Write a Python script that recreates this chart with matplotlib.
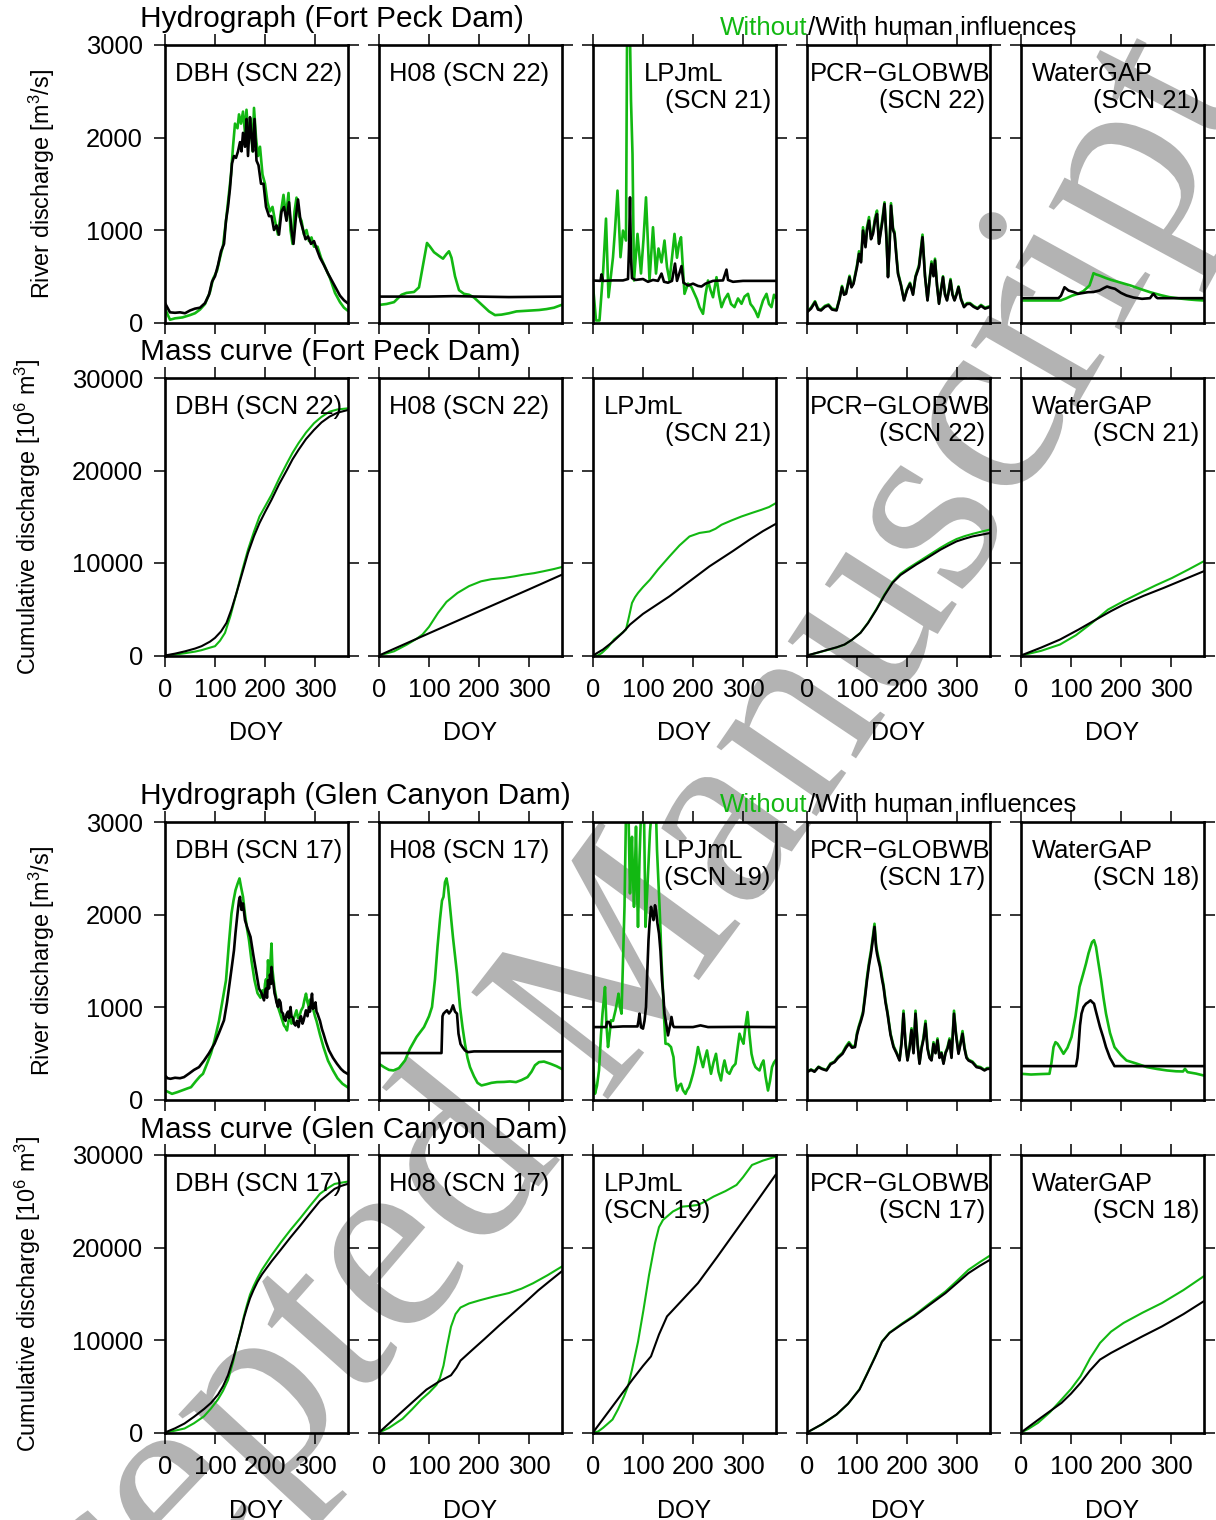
import numpy as np
import matplotlib
matplotlib.use("Agg")
import matplotlib.pyplot as plt
from matplotlib.textpath import TextPath
from matplotlib.font_manager import FontProperties
from matplotlib.patches import PathPatch
from matplotlib.path import Path

plt.rcParams["font.family"] = ["Liberation Sans", "DejaVu Sans"]
plt.rcParams["mathtext.fontset"] = "custom"
plt.rcParams["mathtext.rm"] = "Liberation Sans"
plt.rcParams["mathtext.it"] = "Liberation Sans:italic"

GREEN = "#12B812"
WM_GRAY = "#B3B3B3"

MODELS = ["DBH", "H08", "LPJmL", "PCR\u2212GLOBWB", "WaterGAP"]
FP_SCN = [22, 22, 21, 22, 21]
GC_SCN = [17, 17, 19, 17, 18]
DOY_TICKS = [0, 100, 200, 300]
Q_TICKS = [0, 1000, 2000, 3000]
M_TICKS = [0, 10000, 20000, 30000]

# ---- Fort Peck Dam, hydrograph [m3/s]  (doy, value); nat = without, hum = with human influences
fp_q_dbh_nat = [(0,150),(5,90),(10,30),(20,45),(35,55),(50,80),(60,100),(70,140),(80,200),(90,330),(96,470),
    (104,560),(110,700),(116,830),(122,1100),(127,1350),(132,1600),(136,1900),(140,2150),(145,2100),(148,2250),
    (152,2150),(156,2280),(160,2050),(163,2300),(167,2000),(171,2200),(175,1850),(178,2320),(182,2000),(186,1800),
    (190,1900),(195,1600),(200,1500),(205,1300),(210,1200),(215,1250),(220,1100),(226,950),(232,1200),(237,1380),
    (242,1150),(247,1400),(251,1000),(255,850),(259,1200),(263,1350),(268,1150),(273,1100),(278,950),(283,1000),
    (288,880),(293,920),(298,820),(305,820),(312,700),(320,600),(330,480),(340,320),(350,220),(358,160),(365,130)]
fp_q_dbh_hum = [(0,210),(5,160),(10,110),(20,105),(30,110),(40,100),(50,130),(60,150),(70,160),(80,210),(88,300),
    (94,440),(100,500),(106,620),(112,770),(118,850),(122,1100),(126,1250),(130,1450),(134,1720),(138,1800),
    (142,1780),(146,1850),(150,1950),(153,1850),(156,2050),(160,1900),(163,2200),(166,1800),(170,2220),(173,2000),
    (176,1850),(179,2200),(183,1750),(187,1700),(192,1500),(197,1500),(202,1250),(208,1150),(213,1150),(218,1000),
    (223,1050),(228,950),(233,1200),(238,1250),(243,1100),(248,1300),(253,1000),(257,850),(262,1150),(266,1330),
    (271,1100),(276,1000),(281,900),(286,930),(292,850),(298,880),(303,800),(310,700),(318,620),(326,530),
    (334,450),(342,370),(350,290),(358,240),(365,210)]
fp_q_h08_nat = [(0,190),(15,200),(30,220),(45,300),(55,320),(70,330),(80,380),(88,620),(96,860),(102,820),
    (110,760),(120,720),(128,690),(135,740),(140,770),(145,700),(152,500),(160,350),(170,310),(180,300),(190,270),
    (200,220),(210,170),(220,120),(232,80),(245,85),(260,100),(275,120),(290,125),(305,130),(320,135),(335,145),
    (350,160),(365,190)]
fp_q_h08_hum = [(0,280),(100,280),(150,285),(200,280),(260,275),(365,280)]
fp_q_lpj_nat = [(0,400),(6,22),(13,22),(20,529),(26,1123),(31,273),(40,706),(44,1000),(49,1426),(55,706),
    (60,994),(66,886),(68,2973),(70,3100),(74,3100),(76,2400),(79,1822),(82,454),(89,958),(96,530),(101,900),
    (106,1353),(113,454),(120,1030),(126,529),(131,800),(137,650),(143,886),(148,600),(153,454),(158,700),
    (163,958),(168,700),(172,850),(176,922),(183,310),(190,420),(197,382),(203,310),(208,250),(213,166),(220,94),
    (225,300),(230,454),(235,350),(240,273),(247,490),(252,300),(257,166),(263,250),(270,310),(276,200),(283,166),
    (290,260),(297,202),(303,280),(310,310),(315,200),(320,166),(325,120),(330,58),(335,150),(340,238),(347,310),
    (352,200),(357,166),(362,300),(365,273)]
fp_q_lpj_hum = [(0,454),(15,450),(17,520),(20,450),(40,455),(60,455),(70,470),(72,800),(74,1353),(76,700),
    (78,480),(85,460),(100,470),(110,440),(120,460),(130,450),(137,529),(142,440),(150,430),(158,450),(164,637),
    (168,450),(172,520),(177,610),(181,430),(190,400),(200,420),(210,395),(217,389),(225,420),(240,450),(260,455),
    (267,572),(270,460),(280,440),(300,450),(365,450)]
fp_q_pcr_nat = [(0,120),(8,160),(16,230),(22,150),(28,140),(36,180),(43,195),(50,150),(59,140),(65,260),(70,395),
    (74,310),(78,320),(85,505),(89,390),(93,430),(100,620),(104,770),(108,670),(112,1030),(117,830),(120,1030),
    (124,1140),(128,920),(132,980),(136,1130),(140,1210),(144,870),(147,980),(151,1130),(155,1300),(159,920),
    (162,500),(165,820),(168,1290),(172,1020),(175,980),(179,720),(182,540),(188,410),(194,245),(200,360),
    (206,430),(212,310),(217,500),(224,620),(231,950),(236,510),(241,245),(245,460),(249,660),(253,510),(256,690),
    (260,410),(264,210),(268,360),(272,500),(276,310),(280,245),(284,360),(287,470),(291,310),(295,245),(299,310),
    (303,390),(308,260),(314,175),(320,210),(326,210),(333,180),(341,155),(348,190),(356,160),(365,175)]
fp_q_pcr_hum = [(0,111),(8,150),(16,219),(22,140),(28,130),(36,170),(43,184),(50,140),(59,130),(65,250),(70,381),
    (74,300),(78,310),(85,489),(89,380),(93,418),(100,600),(104,742),(108,650),(112,994),(117,814),(120,1000),
    (124,1102),(128,900),(132,958),(136,1100),(140,1174),(144,850),(147,958),(151,1100),(155,1282),(159,900),
    (162,490),(165,800),(168,1264),(172,1000),(175,958),(179,700),(182,526),(188,400),(194,238),(200,350),
    (206,418),(212,300),(217,490),(224,600),(231,922),(236,500),(241,238),(245,450),(249,634),(253,500),(256,670),
    (260,400),(264,202),(268,350),(272,490),(276,300),(280,238),(284,350),(287,454),(291,300),(295,238),(299,300),
    (303,382),(308,250),(314,166),(320,200),(326,202),(333,170),(341,148),(348,180),(356,150),(365,166)]
fp_q_wgp_nat = [(0,238),(79,238),(90,260),(102,290),(114,310),(125,340),(137,400),(142,480),(145,533),(150,520),
    (157,508),(170,480),(180,461),(200,430),(219,400),(240,360),(258,328),(280,295),(297,274),(320,258),(336,249),
    (350,243),(365,238)]
fp_q_wgp_hum = [(0,263),(75,263),(80,290),(87,381),(95,346),(105,330),(114,310),(125,320),(134,328),(145,330),
    (157,346),(165,370),(172,389),(180,375),(188,364),(200,320),(211,292),(225,270),(242,256),(258,263),(263,300),
    (265,310),(270,275),(273,263),(300,263),(365,263)]

# ---- Fort Peck Dam, mass curve [10^6 m3]
fp_m_dbh_nat = [(0,0),(20,100),(40,250),(60,420),(73,575),(90,850),(100,1004),(110,1600),(120,2445),(131,4300),
    (143,6763),(155,9300),(166,11440),(178,13400),(189,15030),(200,16100),(213,17370),(228,19100),(244,20790),
    (255,21900),(267,22950),(282,24100),(298,25110),(313,25800),(329,26360),(345,26600),(366,26720)]
fp_m_dbh_hum = [(0,0),(20,200),(40,450),(60,750),(73,1004),(90,1500),(100,1906),(112,2600),(123,3527),(133,5000),
    (143,6763),(155,9000),(166,11080),(178,12900),(189,14318),(200,15500),(213,16830),(228,18500),(244,20068),
    (255,21200),(267,22227),(282,23400),(298,24385),(313,25200),(329,25824),(345,26250),(366,26543)]
fp_m_h08_nat = [(0,0),(30,450),(56,1187),(75,1800),(87,2266),(100,3100),(118,4600),(135,5800),(157,6763),
    (180,7500),(204,8020),(225,8250),(250,8380),(270,8550),(289,8740),(310,8900),(328,9096),(350,9350),(366,9570)]
fp_m_h08_hum = [(0,0),(100,2400),(200,4780),(300,7150),(366,8740)]
fp_m_lpj_nat = [(0,0),(10,0),(18,290),(30,900),(42,1726),(55,2300),(66,2805),(72,4200),(78,5680),(84,6300),
    (90,6763),(100,7400),(114,8200),(130,9300),(153,10715),(173,11900),(193,12870),(213,13250),(233,13410),
    (245,13700),(257,14135),(277,14600),(297,15030),(317,15400),(337,15755),(352,16050),(366,16480)]
fp_m_lpj_hum = [(0,0),(20,650),(40,1500),(60,2500),(74,3345),(100,4500),(153,6400),(200,8300),(233,9640),
    (280,11300),(313,12520),(340,13450),(366,14243)]
fp_m_pcr_nat = [(0,0),(20,280),(43,620),(60,880),(75,1170),(90,1700),(107,2470),(122,3550),(139,5050),(155,6600),
    (171,7950),(187,8850),(203,9450),(219,10000),(235,10550),(251,11100),(267,11650),(283,12150),(299,12590),
    (315,12900),(331,13150),(348,13380),(365,13600)]
fp_m_pcr_hum = [(0,0),(20,300),(43,647),(60,900),(75,1187),(90,1700),(107,2445),(122,3500),(139,4963),(155,6500),
    (171,7844),(187,8700),(203,9280),(219,9850),(235,10360),(251,10900),(267,11440),(283,11900),(299,12336),
    (315,12620),(331,12870),(348,13050),(365,13230)]
fp_m_wgp_nat = [(0,0),(40,500),(78,1187),(110,2200),(142,3527),(174,4963),(206,5900),(238,6763),(270,7600),
    (302,8380),(335,9300),(365,10170)]
fp_m_wgp_hum = [(0,0),(40,850),(78,1726),(115,2800),(150,3885),(180,4800),(205,5500),(245,6450),(285,7300),
    (325,8200),(365,9096)]

# ---- Glen Canyon Dam, hydrograph [m3/s]
gc_q_dbh_nat = [(0,97),(7,80),(14,61),(25,80),(35,100),(45,120),(52,133),(62,200),(70,250),(76,278),(85,400),
    (92,500),(99,639),(108,850),(116,1100),(122,1289),(128,1700),(133,2011),(137,2150),(141,2263),(145,2330),
    (149,2390),(152,2300),(156,2191),(160,2000),(164,1850),(168,1722),(173,1500),(179,1289),(185,1150),(191,1100),
    (195,1180),(198,1108),(200,1250),(202,1300),(204,1200),(206,1505),(208,1350),(210,1400),(213,1686),(215,1400),
    (217,1300),(219,1200),(221,1144),(224,1050),(226,1000),(229,950),(232,900),(235,850),(238,800),(241,780),
    (244,747),(247,850),(250,900),(253,820),(256,850),(259,900),(263,964),(266,880),(269,900),(272,960),(276,1000),
    (279,1080),(282,1144),(285,1050),(288,1000),(290,1080),(292,1050),(295,1000),(297,964),(300,900),(303,850),
    (310,700),(317,566),(326,420),(336,314),(345,230),(355,170),(365,133)]
gc_q_dbh_hum = [(0,260),(5,230),(11,224),(20,235),(30,230),(38,242),(48,280),(58,320),(68,350),(78,420),(88,500),
    (99,603),(108,720),(118,856),(124,1050),(130,1289),(134,1450),(138,1614),(141,1800),(145,2011),(148,2150),
    (150,2191),(153,2050),(156,2120),(160,1939),(165,1850),(171,1758),(177,1550),(183,1361),(188,1200),(193,1150),
    (198,1072),(200,1150),(202,1200),(204,1100),(206,1289),(208,1200),(210,1350),(212,1250),(213,1433),(215,1300),
    (217,1250),(219,1150),(221,1108),(223,1050),(226,1000),(228,1080),(231,1050),(233,950),(236,928),(238,870),
    (241,850),(243,920),(246,950),(248,880),(251,1000),(253,900),(256,880),(258,820),(261,800),(264,850),
    (267,783),(270,880),(272,900),(275,820),(277,850),(280,920),(282,964),(285,900),(288,1000),(290,950),
    (292,1050),(294,1144),(296,980),(298,1000),(301,1050),(303,950),(305,928),(308,880),(310,850),(314,760),
    (317,711),(322,620),(328,530),(336,450),(344,386),(352,330),(358,300),(365,278)]
gc_q_h08_nat = [(0,386),(10,350),(20,320),(29,314),(40,340),(52,422),(62,550),(75,675),(90,783),(100,900),
    (106,1000),(112,1300),(117,1650),(122,1950),(126,2150),(129,2191),(132,2350),(135,2390),(138,2300),(142,2083),
    (148,1750),(156,1361),(162,1000),(167,783),(172,600),(177,450),(182,350),(190,250),(197,180),(205,152),
    (215,165),(225,180),(236,188),(250,190),(262,195),(274,188),(285,210),(297,242),(305,300),(312,370),(320,404),
    (330,410),(343,386),(355,360),(365,332)]
gc_q_h08_hum = [(0,502),(60,502),(125,502),(127,900),(129,928),(133,950),(136,964),(140,930),(144,960),(148,1018),
    (152,950),(156,928),(159,711),(163,600),(167,566),(172,530),(178,512),(190,520),(250,520),(365,520)]
gc_q_lpj_nat = [(0,350),(4,62),(8,150),(12,314),(16,700),(19,928),(22,1100),(24,1216),(27,800),(30,567),(33,700),
    (36,856),(40,850),(45,964),(48,1050),(51,1144),(54,1000),(57,928),(60,1500),(63,2083),(66,3100),(71,3100),
    (73,2500),(74,2228),(76,2600),(78,2840),(80,2400),(82,2083),(84,2500),(86,2950),(88,2300),(90,1866),(93,2600),
    (96,3100),(102,3100),(104,2300),(105,1866),(108,2200),(111,2552),(114,2900),(117,3100),(126,3100),(128,2700),
    (131,2336),(133,2100),(135,1830),(137,1500),(139,1289),(142,900),(145,603),(150,600),(156,567),(158,520),
    (161,458),(164,250),(168,97),(172,150),(176,170),(180,100),(185,61),(188,100),(192,133),(196,200),(200,278),
    (205,400),(210,567),(215,450),(220,350),(224,450),(228,530),(232,400),(236,278),(241,400),(246,494),(251,300),
    (256,206),(260,350),(263,422),(268,300),(273,278),(279,350),(285,386),(289,550),(293,711),(297,650),(301,603),
    (305,800),(309,946),(313,700),(317,494),(321,400),(325,350),(329,330),(333,314),(337,380),(341,422),(345,250),
    (350,97),(354,200),(358,350),(362,400),(365,422)]
gc_q_lpj_hum = [(0,783),(26,783),(28,838),(32,838),(36,783),(60,790),(89,790),(91,850),(93,928),(96,780),
    (100,766),(103,850),(106,1000),(108,1300),(111,1722),(113,1900),(116,2083),(119,2000),(121,1939),(124,2100),
    (126,2047),(129,1900),(132,1794),(135,1600),(138,1289),(141,1100),(143,928),(147,800),(150,693),(154,800),
    (157,892),(160,800),(162,783),(200,783),(215,801),(230,783),(290,785),(365,783)]
gc_q_pcr_nat = [(0,300),(8,325),(15,305),(23,355),(30,335),(39,320),(47,390),(55,410),(62,460),(71,505),(78,575),
    (84,620),(90,575),(96,580),(100,720),(104,800),(108,870),(112,950),(116,1130),(120,1320),(124,1480),
    (128,1610),(131,1730),(135,1900),(138,1680),(140,1610),(143,1530),(146,1460),(150,1330),(153,1240),(157,1070),
    (161,945),(167,715),(173,580),(179,510),(185,430),(189,620),(193,960),(197,615),(201,430),(205,565),(209,770),
    (213,510),(217,960),(221,615),(225,395),(229,565),(233,670),(237,850),(241,565),(245,460),(249,430),(253,620),
    (257,510),(261,660),(265,460),(269,510),(273,395),(277,510),(281,565),(285,660),(289,460),(294,960),(298,715),
    (303,505),(307,615),(311,740),(315,565),(319,460),(323,430),(331,410),(339,360),(347,350),(355,320),(360,340),
    (365,340)]
gc_q_pcr_hum = [(0,296),(8,320),(15,300),(23,350),(30,330),(39,314),(47,380),(55,404),(62,450),(71,494),(78,560),
    (84,603),(90,560),(96,567),(100,700),(104,783),(108,850),(112,928),(116,1100),(120,1289),(124,1450),(128,1578),
    (131,1700),(135,1866),(138,1650),(140,1578),(143,1500),(146,1433),(150,1300),(153,1217),(157,1050),(161,928),
    (167,700),(173,567),(179,500),(185,422),(189,600),(193,928),(197,600),(201,422),(205,550),(209,750),(213,500),
    (217,928),(221,600),(225,386),(229,550),(233,650),(237,819),(241,550),(245,450),(249,422),(253,600),(257,500),
    (261,639),(265,450),(269,500),(273,386),(277,500),(281,550),(285,639),(289,450),(294,928),(298,700),(303,494),
    (307,600),(311,711),(315,550),(319,450),(323,422),(331,400),(339,350),(347,340),(355,314),(360,330),(365,332)]
gc_q_wgp_nat = [(0,278),(20,270),(40,275),(57,278),(61,400),(65,566),(69,620),(73,603),(79,550),(85,494),(93,560),
    (101,675),(109,900),(117,1217),(124,1350),(130,1469),(135,1580),(139,1650),(142,1700),(146,1722),(150,1650),
    (154,1505),(160,1300),(165,1100),(170,928),(178,720),(187,566),(200,480),(211,422),(230,390),(252,350),
    (272,330),(292,314),(310,305),(324,303),(328,332),(333,296),(350,280),(365,260)]
gc_q_wgp_hum = [(0,361),(110,361),(113,450),(115,566),(118,800),(121,928),(125,1000),(130,1036),(134,1050),
    (139,1072),(143,1050),(146,1036),(150,950),(158,783),(164,680),(170,566),(178,450),(187,361),(365,361)]

# ---- Glen Canyon Dam, mass curve [10^6 m3]
gc_m_dbh_nat = [(0,0),(20,200),(39,431),(58,1000),(78,1750),(92,2600),(106,3585),(116,4500),(126,5665),(136,7600),
    (145,9700),(152,11200),(158,12600),(164,13800),(170,14900),(177,15800),(185,16700),(194,17600),(213,19150),
    (232,20575),(251,21900),(271,23200),(290,24500),(310,25810),(325,26400),(339,26870),(352,27000),(365,27120)]
gc_m_dbh_hum = [(0,0),(20,450),(39,971),(58,1700),(78,2536),(92,3200),(106,4100),(116,5000),(126,6190),(136,7900),
    (145,9700),(152,11100),(158,12400),(164,13500),(170,14500),(177,15400),(185,16300),(194,17100),(213,18500),
    (232,19790),(251,21100),(271,22410),(290,23700),(310,25030),(325,25700),(339,26330),(352,26650),(365,26870)]
gc_m_h08_nat = [(0,0),(20,500),(47,1478),(66,2500),(85,3585),(100,4300),(115,5150),(122,5900),(129,7230),
    (136,9300),(144,11440),(153,12800),(163,13510),(180,13950),(202,14300),(230,14700),(260,15080),(285,15550),
    (308,16130),(337,17000),(366,17950)]
gc_m_h08_hum = [(0,0),(50,2450),(95,4640),(120,5500),(144,6190),(155,7000),(163,7770),(187,8950),(211,10110),
    (240,11550),(270,12990),(294,14150),(318,15340),(342,16400),(366,17440)]
gc_m_lpj_nat = [(0,0),(10,100),(20,500),(39,1400),(50,2500),(62,3900),(70,5000),(78,6800),(90,9800),(101,13270),
    (112,17000),(124,20470),(132,22200),(140,22980),(160,23900),(179,24420),(195,24500),(210,24600),(225,25000),
    (241,25500),(265,26100),(287,26760),(300,27600),(318,28920),(340,29400),(365,29810)]
gc_m_lpj_hum = [(0,0),(40,2900),(80,5800),(100,7200),(116,8230),(132,10600),(148,12550),(179,14350),(210,16150),
    (248,18950),(287,21900),(326,24850),(365,27840)]
gc_m_pcr_nat = [(0,0),(30,880),(59,1930),(82,3100),(105,4680),(120,6350),(137,8300),(150,9850),(165,10800),
    (190,11780),(214,12650),(245,13950),(277,15250),(300,16400),(323,17590),(345,18400),(366,19130)]
gc_m_pcr_hum = [(0,0),(30,900),(59,1942),(82,3100),(105,4640),(120,6300),(137,8233),(150,9800),(165,10757),
    (190,11700),(214,12550),(245,13800),(277,15070),(300,16150),(323,17230),(345,18000),(366,18670)]
gc_m_wgp_nat = [(0,0),(15,400),(34,1047),(58,2200),(81,3560),(100,4700),(119,6075),(138,8000),(158,9680),
    (180,10900),(205,11840),(243,12950),(282,14000),(325,15400),(365,16870)]
gc_m_wgp_hum = [(0,0),(40,1600),(81,3200),(100,4200),(119,5360),(138,6700),(158,7880),(180,8600),(205,9320),
    (243,10400),(282,11470),(325,12800),(365,14170)]

FP_Q = [(fp_q_dbh_nat, fp_q_dbh_hum), (fp_q_h08_nat, fp_q_h08_hum), (fp_q_lpj_nat, fp_q_lpj_hum),
        (fp_q_pcr_nat, fp_q_pcr_hum), (fp_q_wgp_nat, fp_q_wgp_hum)]
FP_M = [(fp_m_dbh_nat, fp_m_dbh_hum), (fp_m_h08_nat, fp_m_h08_hum), (fp_m_lpj_nat, fp_m_lpj_hum),
        (fp_m_pcr_nat, fp_m_pcr_hum), (fp_m_wgp_nat, fp_m_wgp_hum)]
GC_Q = [(gc_q_dbh_nat, gc_q_dbh_hum), (gc_q_h08_nat, gc_q_h08_hum), (gc_q_lpj_nat, gc_q_lpj_hum),
        (gc_q_pcr_nat, gc_q_pcr_hum), (gc_q_wgp_nat, gc_q_wgp_hum)]
GC_M = [(gc_m_dbh_nat, gc_m_dbh_hum), (gc_m_h08_nat, gc_m_h08_hum), (gc_m_lpj_nat, gc_m_lpj_hum),
        (gc_m_pcr_nat, gc_m_pcr_hum), (gc_m_wgp_nat, gc_m_wgp_hum)]

W, H = 1216, 1520
COL_X = [165, 379, 593, 807, 1021]
ROW_Y = [45, 378, 822, 1155]
PW, PH = 183, 277.5
FS = 18.4

fig = plt.figure(figsize=(W / 100, H / 100), dpi=100)
fig.patch.set_facecolor("white")


def fx(x):
    return x / W


def fy(y):
    return 1 - y / H


# label layout per model column: (x of line 1, ha, x of line 2, ha), pixels from panel left
LBL_SINGLE = 10
LBL_LAYOUT = {
    0: {2: (51, "left", 178, "right")},
    1: {2: (11, "left", 178, "right")},
    2: {2: (71, "left", 71, "left")},
    3: {2: (11, "left", 11, "left")},
}
for r in range(4):
    LBL_LAYOUT[r][3] = (3, "left", 178, "right")
    LBL_LAYOUT[r][4] = (11, "left", 178, "right")


def draw_panel(r, c, nat, hum, ymax, yticks, scn, mass):
    ax = fig.add_axes([fx(COL_X[c]), fy(ROW_Y[r] + PH), PW / W, PH / H])
    ax.set_facecolor("none")
    lw = 1.5 if mass else 1.9
    x, y = zip(*nat)
    ax.plot(x, y, color=GREEN, lw=lw, solid_joinstyle="round")
    x, y = zip(*hum)
    ax.plot(x, y, color="black", lw=lw, solid_joinstyle="round")
    ax.set_xlim(0, 366)
    ax.set_ylim(0, ymax)
    ax.set_xticks(DOY_TICKS)
    ax.set_yticks(yticks)
    ax.tick_params(direction="out", length=8, width=1.1, top=True, right=True,
                   labelsize=FS, colors="black")
    ax.tick_params(axis="x", pad=8, labelbottom=mass)
    ax.tick_params(axis="y", pad=8, labelleft=(c == 0))
    for s in ax.spines.values():
        s.set_linewidth(1.9)

    if c in LBL_LAYOUT[r]:
        x1, ha1, x2, ha2 = LBL_LAYOUT[r][c]
        ax.text(x1 / PW, 1 - 29 / PH, MODELS[c], transform=ax.transAxes, ha=ha1, va="center",
                fontsize=FS, clip_on=True)
        ax.text(x2 / PW, 1 - 56 / PH, f"(SCN {scn})", transform=ax.transAxes, ha=ha2, va="center",
                fontsize=FS, clip_on=True)
    else:
        ax.text(LBL_SINGLE / PW, 1 - 29 / PH, f"{MODELS[c]} (SCN {scn})", transform=ax.transAxes,
                ha="left", va="center", fontsize=FS, clip_on=True)
    if mass:
        fig.text(fx(COL_X[c] + PW / 2), fy(ROW_Y[r] + PH + 78), "DOY", ha="center", va="center",
                 fontsize=18)
    return ax


for c in range(5):
    draw_panel(0, c, *FP_Q[c], 3000, Q_TICKS, FP_SCN[c], False)
    draw_panel(1, c, *FP_M[c], 30000, M_TICKS, FP_SCN[c], True)
    draw_panel(2, c, *GC_Q[c], 3000, Q_TICKS, GC_SCN[c], False)
    draw_panel(3, c, *GC_M[c], 30000, M_TICKS, GC_SCN[c], True)

TITLES = ["Hydrograph (Fort Peck Dam)", "Mass curve (Fort Peck Dam)",
          "Hydrograph (Glen Canyon Dam)", "Mass curve (Glen Canyon Dam)"]
TITLE_Y = [19, 352, 796, 1130]
for t, ty in zip(TITLES, TITLE_Y):
    fig.text(fx(140), fy(ty), t, ha="left", va="center", fontsize=21.5)

for r, lab, lx in [(0, "River discharge [m$^3$/s]", 42), (1, "Cumulative discharge [10$^6$ m$^3$]", 28),
                   (2, "River discharge [m$^3$/s]", 42), (3, "Cumulative discharge [10$^6$ m$^3$]", 28)]:
    fig.text(fx(lx), fy(ROW_Y[r] + PH / 2), lab, rotation=90, ha="center", va="center", fontsize=16.8)

renderer = fig.canvas.get_renderer()
for ly in [28, 805]:
    t1 = fig.text(fx(720), fy(ly), "Without", color=GREEN, ha="left", va="center", fontsize=18.6)
    bb = t1.get_window_extent(renderer)
    fig.text(bb.x1 / W, fy(ly), "/With human influences", color="black", ha="left", va="center",
             fontsize=18.6)

# watermark text bent along a wide arc
wm = fig.add_axes([0, 0, 1, 1], zorder=-1)
wm.set_xlim(0, W)
wm.set_ylim(0, H)
wm.axis("off")
wm_prop = FontProperties(family="Liberation Serif")
WM_SIZE = 265
tp = TextPath((0, 0), "Accepted Manuscript", size=WM_SIZE, prop=wm_prop)
m_end = TextPath((0, 0), "Accepted M", size=WM_SIZE, prop=wm_prop).get_extents().x1
m_w = TextPath((0, 0), "M", size=WM_SIZE, prop=wm_prop).get_extents().width
u_m = m_end - m_w / 2
th0 = np.deg2rad(53)
R = 6000.0
b0 = np.array([675.0, H - 1012.0])
cen = b0 + R * np.array([-np.sin(th0), np.cos(th0)])
v = tp.vertices.copy()
th = th0 + (v[:, 0] - u_m) / R
rad = R - v[:, 1]
nv = np.column_stack([cen[0] + rad * np.sin(th), cen[1] - rad * np.cos(th)])
wm.add_patch(PathPatch(Path(nv, tp.codes), facecolor=WM_GRAY, edgecolor="none"))

fig.savefig("out.png", dpi=100, facecolor="white")
